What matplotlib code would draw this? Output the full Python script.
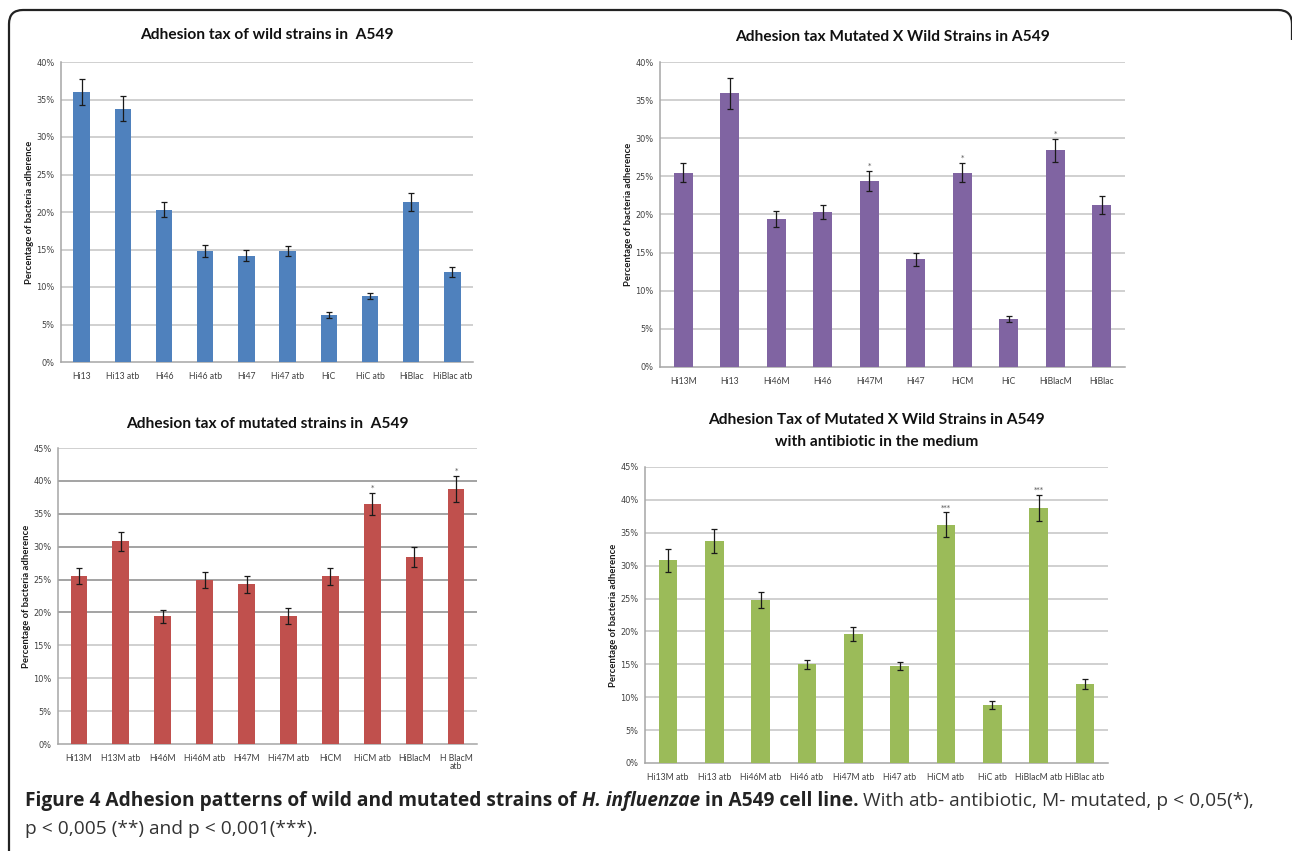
import matplotlib.pyplot as plt
from matplotlib.path import Path
from matplotlib.patches import PathPatch
from matplotlib.ticker import FuncFormatter
import numpy as np

# Adhesion (% of bacteria adherent), with error bars
wild_names = ["Hi13", "Hi13 atb", "Hi46", "Hi46 atb", "Hi47", "Hi47 atb",
              "HiC", "HiC atb", "HiBlac", "HiBlac atb"]
wild_vals = [36.0, 33.8, 20.3, 14.8, 14.2, 14.8, 6.3, 8.8, 21.3, 12.0]
wild_err = [1.7, 1.7, 1.0, 0.8, 0.75, 0.7, 0.4, 0.45, 1.2, 0.7]

mxw_names = ["Hi13M", "Hi13", "Hi46M", "Hi46", "Hi47M", "Hi47",
             "HiCM", "HiC", "HiBlacM", "HiBlac"]
mxw_vals = [25.5, 35.9, 19.4, 20.3, 24.4, 14.1, 25.5, 6.3, 28.4, 21.2]
mxw_err = [1.25, 2.0, 1.1, 0.9, 1.3, 0.8, 1.25, 0.35, 1.5, 1.2]
mxw_sig = ["", "", "", "", "*", "", "*", "", "*", ""]

mut_names = ["Hi13M", "H13M atb", "Hi46M", "Hi46M atb", "Hi47M", "Hi47M atb",
             "HiCM", "HiCM atb", "HiBlacM", "H BlacM\natb"]
mut_vals = [25.6, 30.8, 19.4, 24.9, 24.3, 19.5, 25.5, 36.5, 28.4, 38.8]
mut_err = [1.2, 1.5, 1.0, 1.2, 1.3, 1.2, 1.3, 1.7, 1.5, 2.0]
mut_sig = ["", "", "", "", "", "", "", "*", "", "*"]

atb_names = ["Hi13M atb", "Hi13 atb", "Hi46M atb", "Hi46 atb", "Hi47M atb",
             "Hi47 atb", "HiCM atb", "HiC atb", "HiBlacM atb", "HiBlac atb"]
atb_vals = [30.8, 33.8, 24.8, 15.0, 19.6, 14.8, 36.2, 8.8, 38.8, 12.0]
atb_err = [1.7, 1.8, 1.25, 0.65, 1.0, 0.6, 1.9, 0.6, 2.0, 0.7]
atb_sig = ["", "", "", "", "", "", "***", "", "***", ""]

W, H = 1292, 851
fig = plt.figure(figsize=(W / 100, H / 100), dpi=100)
fig.patch.set_facecolor("white")

title_font = ["Lato", "DejaVu Sans"]
body_font = ["Lato", "DejaVu Sans"]
caption_font = ["Open Sans", "DejaVu Sans"]


def px_axes(left, right, top, bottom):
    return fig.add_axes([left / W, 1 - bottom / H, (right - left) / W, (bottom - top) / H])


def bar_panel(box, names, vals, errs, color, ymax, title, title_y, sig=None,
              dark_grid=()):
    ax = px_axes(*box)
    x = np.arange(len(names))
    ax.bar(x, vals, width=0.4, color=color, zorder=3)
    ax.errorbar(x, vals, yerr=errs, fmt="none", ecolor="#1a1a1a",
                elinewidth=0.9, capsize=2.2, capthick=0.9, zorder=4)
    ticks = np.arange(0, ymax + 1, 5)
    for t in ticks[1:]:
        c = "#8a8a8a" if t in dark_grid else "#c4c4c4"
        ax.axhline(t, color=c, lw=1.1, zorder=1)
    ax.set_xlim(-0.5, len(names) - 0.5)
    ax.set_ylim(0, ymax)
    ax.set_yticks(ticks)
    ax.yaxis.set_major_formatter(FuncFormatter(lambda v, p: f"{v:.0f}%"))
    ax.set_xticks(x)
    ax.set_xticklabels(names, fontsize=6.2, color="#404040", family=body_font,
                       linespacing=0.9)
    ax.tick_params(axis="y", labelsize=5.9, colors="#404040", length=0, pad=4.5)
    ax.tick_params(axis="x", length=0, pad=7)
    for s in ("top", "right"):
        ax.spines[s].set_visible(False)
    for s in ("left", "bottom"):
        ax.spines[s].set_color("#a6a6a6")
        ax.spines[s].set_linewidth(1.1)
    ax.set_ylabel("Percentage of bacteria adherence", fontsize=6.8,
                  fontweight="bold", family=body_font, color="#1a1a1a", labelpad=1.5)
    if sig is not None:
        for xi, v, e, s in zip(x, vals, errs, sig):
            if s:
                ax.text(xi, v + e + 0.3, s, ha="center", va="bottom",
                        fontsize=5, color="#555555")
    cx = (box[0] + box[1]) / 2 / W
    fig.text(cx, 1 - title_y / H, title, ha="center", va="center",
             fontsize=11.2, fontweight="bold", family=title_font, color="#111111",
             linespacing=1.65)
    return ax


bar_panel((61, 473, 62, 362), wild_names, wild_vals, wild_err, "#4F81BD", 40,
          "Adhesion tax of wild strains in  A549", 35)
bar_panel((660, 1125, 62, 367), mxw_names, mxw_vals, mxw_err, "#8064A2", 40,
          "Adhesion tax Mutated X Wild Strains in A549", 37, sig=mxw_sig)
bar_panel((58, 477, 448, 744), mut_names, mut_vals, mut_err, "#C0504D", 45,
          "Adhesion tax of mutated strains in  A549", 424, sig=mut_sig,
          dark_grid=(20, 25, 30, 35, 40))
bar_panel((645, 1108, 467, 763), atb_names, atb_vals, atb_err, "#9BBB59", 45,
          "Adhesion Tax of Mutated X Wild Strains in A549\nwith antibiotic in the medium",
          431, sig=atb_sig)

# overlay in pixel units for the frame and the caption
ov = fig.add_axes([0, 0, 1, 1], zorder=-1)
ov.set_xlim(0, W)
ov.set_ylim(H, 0)
ov.axis("off")
ov.patch.set_alpha(0)

# page frame: left side, rounded top corners, top edge
r = 14
verts = [(9, H + 5), (9, 10 + r), (9, 10), (9 + r, 10), (1292 - r, 10),
         (1292, 10), (1292, 10 + r), (1292, 40)]
codes = [Path.MOVETO, Path.LINETO, Path.CURVE3, Path.CURVE3, Path.LINETO,
         Path.CURVE3, Path.CURVE3, Path.LINETO]
ov.add_patch(PathPatch(Path(verts, codes), fc="none", ec="#222222", lw=1.6))

renderer = fig.canvas.get_renderer()


def put_runs(x, y, runs, size=13.8, gap=5):
    for s, kw in runs:
        style = dict(color="#222222")
        style.update(kw)
        t = ov.text(x, y, s, va="center", ha="left", fontsize=size,
                    family=caption_font, **style)
        bb = t.get_window_extent(renderer=renderer)
        x += bb.width + gap


put_runs(25, 801, [
    ("Figure 4 Adhesion patterns of wild and mutated strains of", dict(fontweight="bold")),
    ("H. influenzae", dict(fontweight="bold", style="italic")),
    ("in A549 cell line.", dict(fontweight="bold")),
    ("With atb- antibiotic, M- mutated, p < 0,05(*),", dict(color="#333333")),
])
put_runs(25, 829, [("p < 0,005 (**) and p < 0,001(***).", dict(color="#333333"))])

fig.savefig("out.png", dpi=100, facecolor="white")
